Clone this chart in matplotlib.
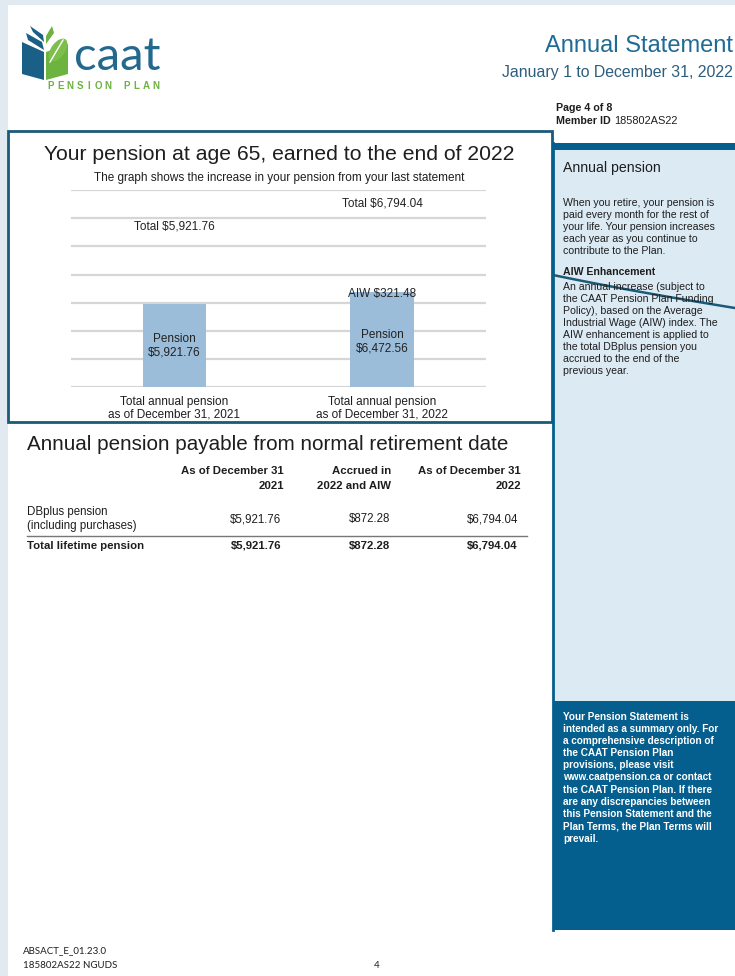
import matplotlib
matplotlib.use("Agg")
import matplotlib.pyplot as plt
from matplotlib.patches import Rectangle, Polygon, Ellipse
import numpy as np

plt.rcParams['font.family'] = ['Liberation Sans', 'DejaVu Sans']

# ---------------- data ----------------
categories = ["Total annual pension\nas of December 31, 2021",
              "Total annual pension\nas of December 31, 2022"]
pension_values = [5921.76, 6472.56]
aiw_values = [0.0, 321.48]
total_values = [5921.76, 6794.04]
pension_labels = ["Pension\n$5,921.76", "Pension\n$6,472.56"]
total_labels = ["Total $5,921.76", "Total $6,794.04"]
aiw_label = "AIW $321.48"
y_ticks = [0, 2000, 4000, 6000, 8000, 10000, 12000, 14000]

table_headers = [["As of December 31", "2021"],
                 ["Accrued in", "2022 and AIW"],
                 ["As of December 31", "2022"]]
table_row_label = ["DBplus pension", "(including purchases)"]
table_row_values = ["$5,921.76", "$872.28", "$6,794.04"]
table_total_label = "Total lifetime pension"
table_total_values = ["$5,921.76", "$872.28", "$6,794.04"]

side_intro = ["When you retire, your pension is",
              "paid every month for the rest of",
              "your life. Your pension increases",
              "each year as you continue to",
              "contribute to the Plan."]
side_aiw = ["An annual increase (subject to",
            "the CAAT Pension Plan Funding",
            "Policy), based on the Average",
            "Industrial Wage (AIW) index. The",
            "AIW enhancement is applied to",
            "the total DBplus pension you",
            "accrued to the end of the",
            "previous year."]
side_note = ["Your Pension Statement is",
             "intended as a summary only. For",
             "a comprehensive description of",
             "the CAAT Pension Plan",
             "provisions, please visit",
             "www.caatpension.ca or contact",
             "the CAAT Pension Plan. If there",
             "are any discrepancies between",
             "this Pension Statement and the",
             "Plan Terms, the Plan Terms will",
             "prevail."]

# ---------------- figure ----------------
W, H = 735, 976
fig = plt.figure(figsize=(W / 100, H / 100), dpi=100)
fig.patch.set_facecolor("white")

bg = fig.add_axes([0, 0, 1, 1])
bg.set_xlim(0, W)
bg.set_ylim(H, 0)
bg.axis("off")

DARK_BLUE = "#045f8e"
LIGHT_BLUE = "#dceaf4"
BOX_EDGE = "#1b5a78"
TITLE_BLUE = "#1f6b96"
TXT = "#1e1e1e"

# page margins (light bluish)
bg.add_patch(Rectangle((0, 0), W, 5, color="#e2eaf1", lw=0))
bg.add_patch(Rectangle((0, 0), 8, H, color="#e2eaf1", lw=0))

# sidebar
bg.add_patch(Rectangle((553, 143), W - 553, 787, color=LIGHT_BLUE, lw=0))
bg.add_patch(Rectangle((553, 143), W - 553, 7, color=DARK_BLUE, lw=0))
bg.add_patch(Rectangle((553, 701), W - 553, 229, color=DARK_BLUE, lw=0))
bg.plot([553.5, 553.5], [143, 930], color=DARK_BLUE, lw=2)

# logo icon
bg.add_patch(Polygon([(22, 42), (22, 74), (44, 80), (44, 52)], closed=True, color="#1a5f86", lw=0))
bg.add_patch(Polygon([(26, 33), (28, 40), (44, 50), (42, 42)], closed=True, color="#1a5f86", lw=0))
bg.add_patch(Polygon([(30, 26), (33, 32), (44, 42), (43, 35)], closed=True, color="#1a5f86", lw=0))
bg.add_patch(Polygon([(46, 52), (46, 80), (68, 74), (68, 44)], closed=True, color="#6cb33f", lw=0))
bg.add_patch(Polygon([(46, 44), (46, 36), (52, 26), (54, 33)], closed=True, color="#6cb33f", lw=0))
bg.add_patch(Ellipse((58, 50), 14, 26, angle=35, color="#7cbf4a", lw=0))
bg.plot([50, 63], [62, 40], color="white", lw=1)
bg.text(74, 57, "caat", fontsize=34, family="Lato", color="#23698e", va="center", ha="left")
x0 = 51
for ch in "PENSION PLAN":
    if ch != " ":
        bg.text(x0, 86, ch, fontsize=7, fontweight="bold", color="#6cb33f", ha="center", va="center")
    x0 += 9.5

# header
bg.text(733, 46, "Annual Statement", fontsize=17, color=TITLE_BLUE, ha="right", va="center")
bg.text(733, 73, "January 1 to December 31, 2022", fontsize=11.4, color="#2d5e7e", ha="right", va="center")
bg.text(556, 108, "Page 4 of 8", fontsize=7.7, fontweight="bold", color=TXT, ha="left", va="center")
t = bg.text(556, 121, "Member ID ", fontsize=7.7, fontweight="bold", color=TXT, ha="left", va="center")
bg.annotate("185802AS22", xycoords=t, xy=(1, 0.5), va="center", ha="left", fontsize=7.9, color=TXT)

# chart box
bg.add_patch(Rectangle((8, 131), 544, 291, fill=False, edgecolor=BOX_EDGE, lw=2))
bg.text(279, 155, "Your pension at age 65, earned to the end of 2022", fontsize=15.2, color=TXT,
        ha="center", va="center")
bg.text(279, 178, "The graph shows the increase in your pension from your last statement",
        fontsize=8.5, color=TXT, ha="center", va="center")

# chart axes
ax = fig.add_axes([70.7 / W, 1 - 387.3 / H, 415 / W, 197.3 / H])
ax.set_xlim(-0.5, 1.5)
ax.set_ylim(0, y_ticks[-1])
ax.set_yticks(y_ticks)
ax.grid(axis="y", color="#d6d6d6", lw=1.6)
ax.set_axisbelow(True)
for s in ax.spines.values():
    s.set_visible(False)
ax.tick_params(left=False, bottom=False, labelleft=False)
ax.patch.set_alpha(0)
x = np.arange(len(categories))
bw = 0.306
ax.bar(x, pension_values, bw, color="#9bbdd9", zorder=2)
ax.bar(x, aiw_values, bw, bottom=pension_values, color="#9bbdd9", zorder=2)
for i in range(len(categories)):
    ax.text(x[i], pension_values[i] / 2, pension_labels[i], ha="center", va="center",
            fontsize=8.5, color="#222222", linespacing=1.15, zorder=3)
    ax.text(x[i], total_values[i] * 1.922, total_labels[i], ha="center", va="center",
            fontsize=8.5, color="#222222", zorder=3)
ax.text(x[1], pension_values[1] + aiw_values[1] / 2, aiw_label, ha="center", va="center",
        fontsize=8.5, color="#222222", zorder=3)
ax.set_xticks(x)
ax.set_xticklabels(categories, fontsize=8.5, linespacing=1.05, color=TXT)
ax.tick_params(axis="x", pad=3)

# table
bg.text(27, 444, "Annual pension payable from normal retirement date", fontsize=14.9, color=TXT,
        ha="left", va="center")
col_right = [284, 391, 521]
val_right = [281, 390, 518]
for i, hdr in enumerate(table_headers):
    bg.text(col_right[i], 471.5, hdr[0], fontsize=8.2, fontweight="bold", color=TXT, ha="right", va="center")
    bg.text(col_right[i], 486, hdr[1], fontsize=8.2, fontweight="bold", color=TXT, ha="right", va="center")
bg.text(27, 512, table_row_label[0], fontsize=8.3, color=TXT, ha="left", va="center")
bg.text(27, 525.5, table_row_label[1], fontsize=8.3, color=TXT, ha="left", va="center")
for i, v in enumerate(table_row_values):
    bg.text(val_right[i], 519, v, fontsize=8.3, color=TXT, ha="right", va="center")
bg.plot([27, 527], [535.5, 535.5], color="#777777", lw=1)
bg.text(27, 546, table_total_label, fontsize=8.2, fontweight="bold", color=TXT, ha="left", va="center")
for i, v in enumerate(table_total_values):
    bg.text(val_right[i], 546, v, fontsize=8.2, fontweight="bold", color=TXT, ha="right", va="center")

# sidebar text
bg.text(563, 168, "Annual pension", fontsize=10.2, color=TXT, ha="left", va="center")
for i, line in enumerate(side_intro):
    bg.text(563, 202.5 + 12.1 * i, line, fontsize=7.6, color=TXT, ha="left", va="center")
bg.text(563, 272, "AIW Enhancement", fontsize=7.6, fontweight="bold", color=TXT, ha="left", va="center")
for i, line in enumerate(side_aiw):
    bg.text(563, 286.5 + 12.0 * i, line, fontsize=7.6, color=TXT, ha="left", va="center")
for i, line in enumerate(side_note):
    bg.text(563, 716.5 + 12.2 * i, line, fontsize=7.2, fontweight="bold", color="white", ha="left", va="center")

# stray connector line across sidebar
tt = np.linspace(0, 1, 30)
px = (1 - tt) ** 2 * 553 + 2 * (1 - tt) * tt * 630 + tt ** 2 * 735
py = (1 - tt) ** 2 * 275 + 2 * (1 - tt) * tt * 291 + tt ** 2 * 308
bg.plot(px, py, color="#1b5a78", lw=1.8)

# footer
bg.text(23, 951, "ABSACT_E_01.23.0", fontsize=7.0, family="Lato", color=TXT, ha="left", va="center")
bg.text(23, 965, "185802AS22 NGUDS", fontsize=7.0, family="Lato", color=TXT, ha="left", va="center")
bg.text(377, 965, "4", fontsize=7.0, family="Lato", color=TXT, ha="center", va="center")

fig.savefig("out.png", dpi=100)
